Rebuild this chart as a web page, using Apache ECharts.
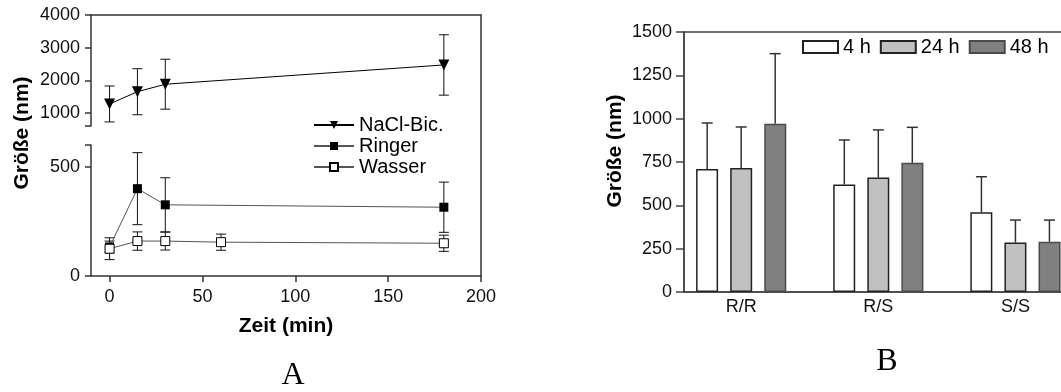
<!DOCTYPE html>
<html>
<head>
<meta charset="utf-8">
<script src="https://cdn.jsdelivr.net/npm/echarts@6/dist/echarts.min.js"></script>
<style>
  html, body { margin: 0; padding: 0; background: #fff; }
  #chart { width: 1061px; height: 392px; }
</style>
</head>
<body>
<div id="chart"></div>
<script>
// panel A: particle size over time (mean, sd)
const timesNaCl = [0, 15, 30, 180]
const naclMean = [1275, 1650, 1880, 2470]
const naclSd = [550, 705, 765, 925]
const timesRinger = [0, 15, 30, 180]
const ringerMean = [133, 400, 326, 315]
const ringerSd = [27, 165, 124, 115]
const timesWasser = [0, 15, 30, 60, 180]
const wasserMean = [125, 160, 160, 155, 150]
const wasserSd = [50, 42, 41, 37, 37]
const timeTicks = [0, 50, 100, 150, 200]
const upperTicks = [1000, 2000, 3000, 4000]
const lowerTicks = [0, 500]

// panel B: size after storage (mean, upper sd)
const groups = ['R/R', 'R/S', 'S/S']
const h4 = [710, 620, 460]
const h4Sd = [265, 257, 205]
const h24 = [715, 660, 285]
const h24Sd = [237, 275, 130]
const h48 = [970, 745, 290]
const h48Sd = [405, 205, 125]

const FONT = 'Liberation Sans'
const AX = '#333'

const pts = (xs, ys) => xs.map((x, i) => [x, ys[i]])
const errPts = (xs, ys, sd) => xs.map((x, i) => [x, ys[i], sd[i]])
const plain = (v) => String(v)

// symmetric error bar with caps
function errBar(params, api) {
  const x = api.value(0), m = api.value(1), s = api.value(2)
  const t = api.coord([x, m + s])
  const b = api.coord([x, m - s])
  const w = 5
  const st = { stroke: '#111', lineWidth: 1 }
  return {
    type: 'group',
    children: [
      { type: 'line', shape: { x1: t[0], y1: t[1], x2: b[0], y2: b[1] }, style: st },
      { type: 'line', shape: { x1: t[0] - w, y1: t[1], x2: t[0] + w, y2: t[1] }, style: st },
      { type: 'line', shape: { x1: b[0] - w, y1: b[1], x2: b[0] + w, y2: b[1] }, style: st },
    ],
  }
}

// upper-only error bar, shifted to its bar inside the group
function upperBar(offset) {
  return (params, api) => {
    const x = api.value(0), m = api.value(1), s = api.value(2)
    const b = api.coord([x, m])
    const t = api.coord([x, m + s])
    const w = 5.5
    const st = { stroke: '#333', lineWidth: 1.5 }
    return {
      type: 'group',
      children: [
        { type: 'line', shape: { x1: b[0] + offset, y1: b[1], x2: t[0] + offset, y2: t[1] }, style: st },
        { type: 'line', shape: { x1: t[0] + offset - w, y1: t[1], x2: t[0] + offset + w, y2: t[1] }, style: st },
      ],
    }
  }
}

const label = { fontFamily: FONT, fontSize: 18, color: '#111', formatter: plain }
const line = { show: true, onZero: false, lineStyle: { color: AX, width: 1.5 } }
const tick = { show: true, length: 6, lineStyle: { color: AX, width: 1.5 } }
const bold = { fontFamily: FONT, fontSize: 21, fontWeight: 'bold', fill: '#000', align: 'center', verticalAlign: 'middle' }

const chart = echarts.init(document.getElementById('chart'), null, { renderer: 'canvas' })

chart.setOption({
  animation: false,
  backgroundColor: '#fff',
  textStyle: { fontFamily: FONT },
  grid: [
    { left: 91, width: 390, top: 15, height: 111, outerBoundsMode: 'none' },
    { left: 91, width: 390, top: 145, height: 131, outerBoundsMode: 'none' },
    { left: 91, width: 390, top: 15, height: 261, outerBoundsMode: 'none' },
    {
      left: 684, width: 400, top: 32, height: 260, outerBoundsMode: 'none',
      show: true, borderColor: '#444', borderWidth: 1.5,
    },
  ],
  xAxis: [
    {
      gridIndex: 0, type: 'value', min: -10, max: 200, position: 'top',
      axisLine: line, axisTick: { show: false }, axisLabel: { show: false }, splitLine: { show: false },
    },
    {
      gridIndex: 1, type: 'value', min: -10, max: 200,
      axisLine: line,
      axisTick: { ...tick, customValues: timeTicks },
      axisLabel: { ...label, margin: 12, customValues: timeTicks },
      splitLine: { show: false },
      name: 'Zeit (min)', nameLocation: 'middle', nameGap: 40,
      nameTextStyle: { fontFamily: FONT, fontSize: 21, fontWeight: 'bold', color: '#000' },
    },
    { gridIndex: 2, type: 'value', min: -10, max: 200, show: false },
    {
      gridIndex: 3, type: 'value', min: -0.417, max: 2.5,
      axisLine: { show: true, onZero: false, lineStyle: { color: '#444', width: 1.5 } },
      axisTick: { show: false },
      axisLabel: { ...label, margin: 6, customValues: [0, 1, 2], formatter: (v) => groups[v] },
      splitLine: { show: false },
    },
  ],
  yAxis: [
    {
      gridIndex: 0, type: 'value', min: 600, max: 4000,
      axisLine: line,
      axisTick: { ...tick, customValues: [600, ...upperTicks] },
      axisLabel: { ...label, margin: 11, customValues: upperTicks },
      splitLine: { show: false },
    },
    {
      gridIndex: 1, type: 'value', min: 0, max: 600,
      axisLine: line,
      axisTick: { ...tick, customValues: [...lowerTicks, 600] },
      axisLabel: { ...label, margin: 11, customValues: lowerTicks },
      splitLine: { show: false },
    },
    {
      gridIndex: 2, type: 'value', min: 0, max: 1, position: 'right',
      axisLine: line, axisTick: { show: false }, axisLabel: { show: false }, splitLine: { show: false },
    },
    {
      gridIndex: 3, type: 'value', min: 0, max: 1500, interval: 250,
      axisLine: { show: true, onZero: false, lineStyle: { color: '#444', width: 1.5 } },
      axisTick: { show: true, length: 8, lineStyle: { color: '#444', width: 1.5 } },
      axisLabel: { ...label, margin: 12 },
      splitLine: { show: false },
    },
  ],
  legend: [
    {
      data: ['NaCl-Bic.', 'Ringer', 'Wasser'],
      orient: 'vertical', left: 313, top: 115, padding: 0,
      itemWidth: 40, itemHeight: 10, itemGap: 1,
      textStyle: { fontFamily: FONT, fontSize: 20, color: '#000' },
    },
    {
      data: ['4 h', '24 h', '48 h'],
      left: 802, top: 37, icon: 'rect', padding: 0,
      itemWidth: 35, itemHeight: 12, itemGap: 9,
      textStyle: { fontFamily: FONT, fontSize: 20, color: '#000' },
    },
  ],
  graphic: [
    { type: 'text', x: 22, y: 133, rotation: Math.PI / 2, style: { text: 'Größe (nm)', ...bold } },
    { type: 'text', x: 615, y: 151, rotation: Math.PI / 2, style: { text: 'Größe (nm)', ...bold } },
    {
      type: 'text', x: 293, y: 376,
      style: { text: 'A', fontFamily: 'Liberation Serif', fontSize: 32, fill: '#000', align: 'center', verticalAlign: 'middle' },
    },
    {
      type: 'text', x: 887, y: 362,
      style: { text: 'B', fontFamily: 'Liberation Serif', fontSize: 32, fill: '#000', align: 'center', verticalAlign: 'middle' },
    },
  ],
  series: [
    // panel A error bars (drawn under the markers)
    { type: 'custom', xAxisIndex: 0, yAxisIndex: 0, z: 1, renderItem: errBar, encode: { x: 0, y: 1 }, data: errPts(timesNaCl, naclMean, naclSd) },
    { type: 'custom', xAxisIndex: 1, yAxisIndex: 1, z: 1, renderItem: errBar, encode: { x: 0, y: 1 }, data: errPts(timesRinger, ringerMean, ringerSd) },
    { type: 'custom', xAxisIndex: 1, yAxisIndex: 1, z: 1, renderItem: errBar, encode: { x: 0, y: 1 }, data: errPts(timesWasser, wasserMean, wasserSd) },
    {
      name: 'NaCl-Bic.', type: 'line', xAxisIndex: 0, yAxisIndex: 0, z: 3,
      data: pts(timesNaCl, naclMean),
      symbol: 'triangle', symbolRotate: 180, symbolSize: 11,
      itemStyle: { color: '#000' }, lineStyle: { color: '#000', width: 1 },
    },
    {
      name: 'Ringer', type: 'line', xAxisIndex: 1, yAxisIndex: 1, z: 3,
      data: pts(timesRinger, ringerMean),
      symbol: 'rect', symbolSize: 9,
      itemStyle: { color: '#000' }, lineStyle: { color: '#555', width: 1 },
    },
    {
      name: 'Wasser', type: 'line', xAxisIndex: 1, yAxisIndex: 1, z: 3,
      data: pts(timesWasser, wasserMean),
      symbol: 'rect', symbolSize: 9,
      itemStyle: { color: '#fff', borderColor: '#000', borderWidth: 1 }, lineStyle: { color: '#555', width: 1 },
    },
    // panel B
    {
      name: '4 h', type: 'bar', xAxisIndex: 3, yAxisIndex: 3,
      data: pts([0, 1, 2], h4), barWidth: 22, barGap: '55%',
      itemStyle: { color: '#fff', borderColor: '#222', borderWidth: 1.5 },
    },
    {
      name: '24 h', type: 'bar', xAxisIndex: 3, yAxisIndex: 3,
      data: pts([0, 1, 2], h24), barWidth: 22, barGap: '55%',
      itemStyle: { color: '#c0c0c0', borderColor: '#222', borderWidth: 1.5 },
    },
    {
      name: '48 h', type: 'bar', xAxisIndex: 3, yAxisIndex: 3,
      data: pts([0, 1, 2], h48), barWidth: 22, barGap: '55%',
      itemStyle: { color: '#808080', borderColor: '#4a4a4a', borderWidth: 1.5 },
    },
    { type: 'custom', xAxisIndex: 3, yAxisIndex: 3, renderItem: upperBar(-34), encode: { x: 0, y: 1 }, data: errPts([0, 1, 2], h4, h4Sd) },
    { type: 'custom', xAxisIndex: 3, yAxisIndex: 3, renderItem: upperBar(0), encode: { x: 0, y: 1 }, data: errPts([0, 1, 2], h24, h24Sd) },
    { type: 'custom', xAxisIndex: 3, yAxisIndex: 3, renderItem: upperBar(34), encode: { x: 0, y: 1 }, data: errPts([0, 1, 2], h48, h48Sd) },
  ],
})
</script>
</body>
</html>
